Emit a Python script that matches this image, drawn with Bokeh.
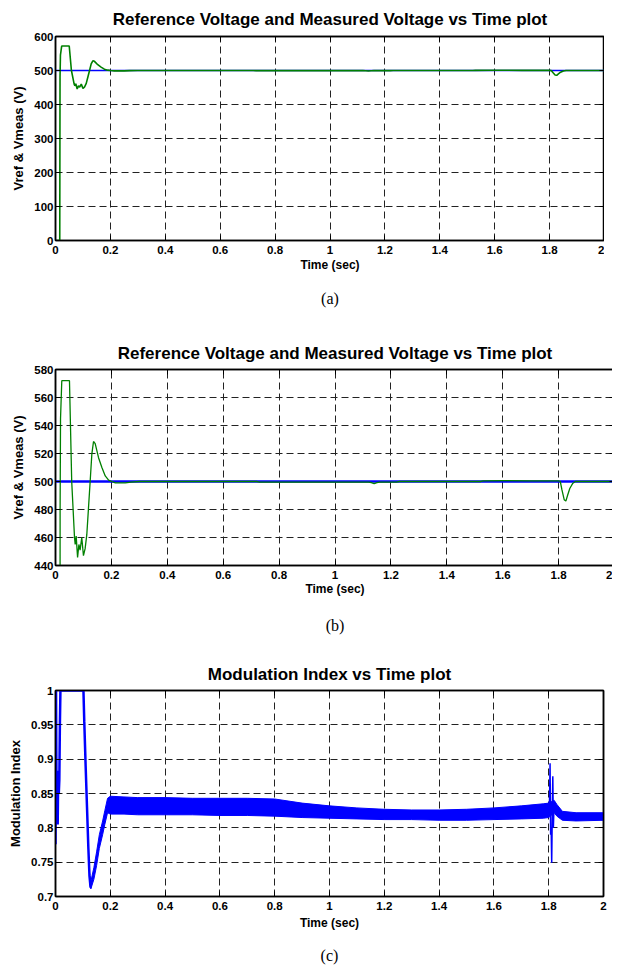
from bokeh.plotting import figure
from bokeh.models import LinearAxis, FixedTicker, Title, Range1d, CustomLabelingPolicy
from bokeh.layouts import column
from bokeh.embed import file_html
from bokeh.resources import INLINE

FONT = "Liberation Sans"
SERIF = "Liberation Serif"

# ---------------- data ----------------
x_ticks = [0, 0.2, 0.4, 0.6, 0.8, 1.0, 1.2, 1.4, 1.6, 1.8, 2.0]
x_tick_labels = ["0", "0.2", "0.4", "0.6", "0.8", "1", "1.2", "1.4", "1.6", "1.8", "2"]

ya_ticks = [0, 100, 200, 300, 400, 500, 600]
ya_labels = ["0", "100", "200", "300", "400", "500", "600"]
yb_ticks = [440, 460, 480, 500, 520, 540, 560, 580]
yb_labels = ["440", "460", "480", "500", "520", "540", "560", "580"]
yc_ticks = [0.7, 0.75, 0.8, 0.85, 0.9, 0.95, 1.0]
yc_labels = ["0.7", "0.75", "0.8", "0.85", "0.9", "0.95", "1"]

# reference voltage (blue)
t_ref = [0.0, 2.0]
v_ref = [500, 500]

# measured voltage (green)
t_meas = [0.0, 0.0155, 0.0165, 0.018, 0.0225, 0.050, 0.058, 0.068, 0.0705, 0.074,
          0.079, 0.0837, 0.088, 0.094, 0.100, 0.106, 0.112, 0.118, 0.124, 0.130,
          0.136, 0.142, 0.154, 0.166, 0.178, 0.190, 0.2015, 0.214, 0.250, 0.270,
          0.300, 0.720, 0.730, 1.120, 1.130, 1.140, 1.150, 1.160, 1.220, 1.230,
          1.520, 1.530, 1.600, 1.700, 1.800, 1.806, 1.812, 1.820, 1.826, 1.832,
          1.840, 1.850, 1.860, 2.000]
v_meas = [0, 0, 480, 545, 572, 572, 500, 460, 455, 461,
          445.7, 455, 451, 460, 447, 452, 462, 481, 500, 519.5,
          528.6, 527, 517, 510, 504, 501, 500, 499, 499, 499.5,
          500, 500, 499.6, 499.6, 499.2, 498.5, 499.2, 499.6, 499.6, 500,
          500, 500.5, 500.6, 500.5, 500.4, 500, 494, 487, 486, 490,
          495, 498.5, 500, 500]

# modulation index: start-up trace
mi_t_start = [0.0, 0.001, 0.002, 0.004, 0.006, 0.008, 0.010, 0.012, 0.014, 0.016,
              0.018, 0.102, 0.105, 0.110, 0.115, 0.120, 0.124, 0.128]
mi_v_start = [0.776, 0.90, 1.0, 0.81, 0.86, 0.805, 0.883, 0.85, 0.87, 0.95,
              1.0, 1.0, 0.955, 0.89, 0.83, 0.77, 0.73, 0.713]

# modulation index: ripple band envelope
mi_t_band = [0.124, 0.129, 0.140, 0.150, 0.160, 0.172, 0.180, 0.190, 0.200, 0.250,
             0.300, 0.400, 0.500, 0.600, 0.700, 0.800, 0.900, 1.000, 1.100, 1.200,
             1.300, 1.400, 1.500, 1.600, 1.700, 1.780, 1.800, 1.820, 1.830, 1.850,
             1.900, 2.000]
mi_lo_band = [0.722, 0.711, 0.725, 0.745, 0.770, 0.790, 0.805, 0.822, 0.820, 0.820,
              0.819, 0.819, 0.819, 0.818, 0.818, 0.817, 0.815, 0.814, 0.813, 0.812,
              0.812, 0.811, 0.811, 0.812, 0.813, 0.814, 0.815, 0.822, 0.817, 0.811,
              0.810, 0.811]
mi_hi_band = [0.735, 0.722, 0.742, 0.765, 0.790, 0.810, 0.825, 0.843, 0.846, 0.845,
              0.844, 0.844, 0.843, 0.843, 0.843, 0.842, 0.836, 0.832, 0.829, 0.827,
              0.826, 0.826, 0.827, 0.829, 0.832, 0.835, 0.836, 0.840, 0.834, 0.824,
              0.822, 0.822]

# modulation index: disturbance spike near 1.8 s
mi_t_spike = [1.800, 1.803, 1.805, 1.807, 1.809, 1.811, 1.813, 1.815, 1.817, 1.820]
mi_v_spike = [0.832, 0.840, 0.894, 0.790, 0.800, 0.749, 0.820, 0.875, 0.800, 0.838]

BLUE = "#0000ff"
GREEN = "#008000"

HIDE_LABELS = CustomLabelingPolicy(code="""
for (const i of indices) { indices.unset(i) }
return indices
""")


def style(p, y_ticks, y_labels, ylabel, title, caption,
          title_standoff, xlabel_standoff, cap_standoff):
    p.title.text = title
    p.title.align = "center"
    p.title.text_font = FONT
    p.title.text_font_size = "17px"
    p.title.text_font_style = "bold"
    p.title.text_color = "black"
    p.title.standoff = title_standoff
    p.outline_line_color = "black"
    p.outline_line_width = 1.5
    xt = FixedTicker(ticks=x_ticks)
    yt = FixedTicker(ticks=y_ticks)
    xa = p.xaxis[0]
    ya = p.yaxis[0]
    xa.ticker = xt
    ya.ticker = yt
    xa.major_label_overrides = dict(zip(x_ticks, x_tick_labels))
    ya.major_label_overrides = dict(zip(y_ticks, y_labels))
    xa.axis_label = "Time (sec)"
    ya.axis_label = ylabel
    for a in (xa, ya):
        a.major_label_text_font = FONT
        a.major_label_text_font_size = "11.5px"
        a.major_label_text_font_style = "bold"
        a.major_label_text_color = "black"
        a.axis_label_text_font = FONT
        a.axis_label_text_font_style = "bold"
        a.axis_label_text_color = "black"
        a.major_tick_in = 5
        a.major_tick_out = 0
        a.minor_tick_line_color = None
        a.axis_line_width = 1.5
    xa.major_label_standoff = 5
    xa.axis_label_standoff = xlabel_standoff
    ya.major_label_standoff = 2
    ya.axis_label_standoff = 5
    xa.axis_label_text_font_size = "12px"
    ya.axis_label_text_font_size = "13px"
    for loc, tk in (("right", yt), ("above", xt)):
        ax = LinearAxis(ticker=tk, major_label_policy=HIDE_LABELS,
                        major_label_text_font_size="2px",
                        major_label_standoff=0, major_tick_in=5, major_tick_out=0,
                        minor_tick_line_color=None, axis_line_width=1.5)
        p.add_layout(ax, loc)
    p.xgrid.ticker = xt
    p.ygrid.ticker = yt
    for g in (p.xgrid[0], p.ygrid[0]):
        g.grid_line_color = "#222222"
        g.grid_line_dash = "7 4"
        g.grid_line_width = 1
    cap = Title(text=caption, align="center", text_font=SERIF, standoff=cap_standoff,
                text_font_style="normal", text_font_size="16px", text_color="black")
    p.add_layout(cap, "below")


def make(fw, fh, left, right, top, bottom, y0, y1):
    return figure(frame_width=fw, frame_height=fh, min_border_left=left,
                  min_border_right=right, min_border_top=top, min_border_bottom=bottom,
                  x_range=Range1d(0, 2), y_range=Range1d(y0, y1),
                  output_backend="svg", toolbar_location=None,
                  background_fill_color="white", border_fill_color="white")


# panel (a)
pa = make(549, 204, 46, 8, 36, 80, 0, 600)
pa.line(t_ref, v_ref, line_color=BLUE, line_width=1.5)
pa.line(t_meas, v_meas, line_color=GREEN, line_width=1.6)
style(pa, ya_ticks, ya_labels, "Vref & Vmeas (V)",
      "Reference Voltage and Measured Voltage vs Time plot", "(a)", 7, 1, 26)

# panel (b)
pb = make(559, 196, 42, 2, 49, 85, 440, 580)
pb.line(t_ref, v_ref, line_color=BLUE, line_width=2.5)
pb.line(t_meas, v_meas, line_color=GREEN, line_width=1.3)
style(pb, yb_ticks, yb_labels, "Vref & Vmeas (V)",
      "Reference Voltage and Measured Voltage vs Time plot", "(b)", 5, 0, 33)

# panel (c)
pc = make(548, 206, 55, 0, 40, 85, 0.7, 1.0)
pc.line(mi_t_start, mi_v_start, line_color=BLUE, line_width=2.5)
pc.varea(x=mi_t_band, y1=mi_lo_band, y2=mi_hi_band, fill_color=BLUE)
pc.line(mi_t_band, mi_lo_band, line_color=BLUE, line_width=1)
pc.line(mi_t_band, mi_hi_band, line_color=BLUE, line_width=1)
pc.line(mi_t_spike, mi_v_spike, line_color=BLUE, line_width=1.5)
style(pc, yc_ticks, yc_labels, "Modulation Index", "Modulation Index vs Time plot", "(c)", 6, 3, 25)

layout = column(pa, pb, pc, spacing=0)
open("out.html", "w").write(file_html(layout, INLINE))
